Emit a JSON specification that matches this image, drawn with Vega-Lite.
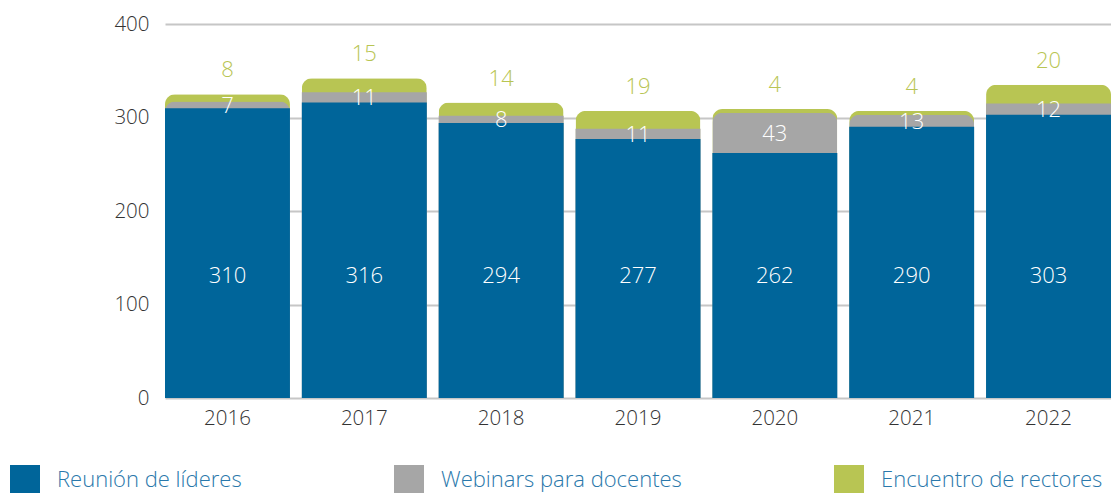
{
  "$schema": "https://vega.github.io/schema/vega-lite/v6.json",
  "width": 946,
  "height": 374,
  "autosize": {"type": "none"},
  "padding": {"left": 165, "top": 24, "right": 0, "bottom": 95},
  "background": "white",
  "config": {
    "view": {"stroke": null},
    "font": "Open Sans",
    "axis": {"labelFont": "Open Sans", "labelFontSize": 20.5, "labelFontWeight": 300, "labelColor": "#333333", "domain": false, "ticks": false, "title": null}
  },
  "data": {
    "values": [
      {"year": "2016", "lideres": 310, "webinars": 7, "rectores": 8},
      {"year": "2017", "lideres": 316, "webinars": 11, "rectores": 15},
      {"year": "2018", "lideres": 294, "webinars": 8, "rectores": 14},
      {"year": "2019", "lideres": 277, "webinars": 11, "rectores": 19},
      {"year": "2020", "lideres": 262, "webinars": 43, "rectores": 4},
      {"year": "2021", "lideres": 290, "webinars": 13, "rectores": 4},
      {"year": "2022", "lideres": 303, "webinars": 12, "rectores": 20}
    ]
  },
  "transform": [
    {"calculate": "datum.lideres + datum.webinars", "as": "s1"},
    {"calculate": "datum.lideres + datum.webinars + datum.rectores", "as": "s2"},
    {"calculate": "datum.lideres + datum.webinars / 2", "as": "mid"}
  ],
  "encoding": {
    "x": {
      "field": "year", "type": "nominal", "sort": null,
      "scale": {"paddingInner": 0.087, "paddingOuter": 0},
      "axis": {"labelAngle": 0, "labelPadding": 10, "grid": false}
    }
  },
  "layer": [
    {
      "mark": {"type": "bar", "cornerRadiusTopLeft": 10, "cornerRadiusTopRight": 10},
      "encoding": {
        "y": {"field": "s2", "type": "quantitative",
          "scale": {"domain": [0, 400]},
          "axis": {"values": [0, 100, 200, 300, 400], "labelPadding": 16, "grid": true, "gridColor": "#c6c6c6", "gridWidth": 2}},
        "color": {"datum": "Encuentro de rectores", "type": "nominal",
          "scale": {"domain": ["Reunión de líderes", "Webinars para docentes", "Encuentro de rectores"], "range": ["#00659a", "#a6a6a6", "#b8c553"]},
          "legend": {
            "orient": "none", "legendX": -155, "legendY": 441, "direction": "horizontal", "columns": 3,
            "title": null, "symbolType": "square", "symbolSize": 900, "symbolStrokeWidth": 0, "symbolOpacity": 1,
            "labelFont": "Open Sans", "labelFontSize": 22, "labelFontWeight": 300, "labelColor": "#2a78ab", "labelOffset": 17,
            "columnPadding": 152, "labelLimit": 400
          }
        }
      }
    },
    {
      "transform": [{"filter": "datum.rectores >= 10"}],
      "mark": {"type": "bar"},
      "encoding": {
        "y": {"field": "s1", "type": "quantitative"},
        "color": {"datum": "Webinars para docentes", "type": "nominal"}
      }
    },
    {
      "transform": [{"filter": "datum.rectores < 10"}],
      "mark": {"type": "bar", "cornerRadiusTopLeft": 10, "cornerRadiusTopRight": 10},
      "encoding": {
        "y": {"field": "s1", "type": "quantitative"},
        "color": {"datum": "Webinars para docentes", "type": "nominal"}
      }
    },
    {
      "mark": {"type": "bar"},
      "encoding": {
        "y": {"field": "lideres", "type": "quantitative"},
        "color": {"datum": "Reunión de líderes", "type": "nominal"}
      }
    },
    {
      "mark": {"type": "text", "color": "white", "fontSize": 22, "fontWeight": 300, "baseline": "middle"},
      "encoding": {
        "y": {"datum": 131, "type": "quantitative"},
        "text": {"field": "lideres", "type": "quantitative"}
      }
    },
    {
      "mark": {"type": "text", "color": "white", "fontSize": 22, "fontWeight": 300, "baseline": "middle", "dy": 1},
      "encoding": {
        "y": {"field": "mid", "type": "quantitative"},
        "text": {"field": "webinars", "type": "quantitative"}
      }
    },
    {
      "mark": {"type": "text", "color": "#b8c553", "fontSize": 22, "fontWeight": 300, "baseline": "middle", "dy": -24},
      "encoding": {
        "y": {"field": "s2", "type": "quantitative"},
        "text": {"field": "rectores", "type": "quantitative"}
      }
    }
  ]
}
